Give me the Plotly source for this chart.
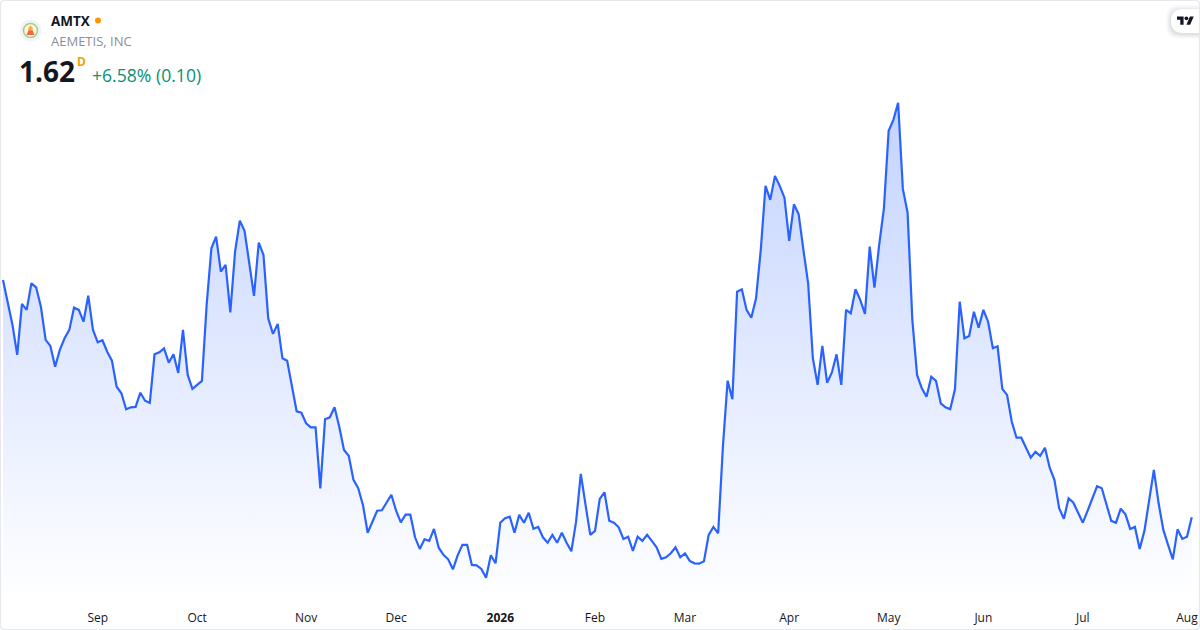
import plotly.graph_objects as go

W, H = 1200, 630
PLOT_H = 606

close = [
2.807,2.698,2.582,2.432,2.687,2.657,2.790,2.770,2.673,2.507,2.477,2.373,2.457,2.515,2.557,2.668,2.657,2.598,2.728,2.557,
2.495,2.505,2.448,2.403,2.273,2.240,2.160,2.170,2.172,2.243,2.203,2.192,2.435,2.445,2.465,2.393,2.435,2.342,2.557,2.332,
2.262,2.282,2.302,2.682,2.965,3.023,2.848,2.882,2.645,2.948,3.103,3.053,2.898,2.727,2.993,2.932,2.615,2.537,2.587,2.415,
2.403,2.282,2.150,2.143,2.090,2.070,2.070,1.765,2.110,2.120,2.170,2.073,1.957,1.928,1.807,1.765,1.682,1.543,1.603,1.653,
1.655,1.695,1.733,1.653,1.595,1.633,1.633,1.520,1.462,1.510,1.502,1.562,1.468,1.432,1.410,1.360,1.430,1.482,1.482,1.382,
1.380,1.362,1.318,1.430,1.390,1.593,1.615,1.623,1.543,1.632,1.593,1.643,1.563,1.572,1.520,1.493,1.532,1.493,1.543,1.493,
1.450,1.598,1.837,1.682,1.532,1.552,1.712,1.745,1.603,1.593,1.570,1.512,1.523,1.452,1.523,1.502,1.532,1.502,1.470,1.412,
1.420,1.440,1.470,1.420,1.440,1.402,1.390,1.388,1.400,1.532,1.572,1.540,1.973,2.303,2.210,2.748,2.760,2.657,2.618,2.715,
2.957,3.277,3.207,3.327,3.277,3.218,3.002,3.185,3.135,2.957,2.790,2.415,2.282,2.477,2.293,2.343,2.435,2.282,2.657,2.640,
2.760,2.707,2.637,2.973,2.768,2.982,3.165,3.553,3.607,3.693,3.262,3.143,2.607,2.332,2.265,2.223,2.323,2.302,2.190,2.170,
2.160,2.260,2.698,2.515,2.527,2.648,2.568,2.657,2.598,2.465,2.475,2.262,2.232,2.098,2.018,2.018,1.968,1.918,1.947,1.927,
1.968,1.868,1.807,1.665,1.613,1.715,1.693,1.643,1.593,1.652,1.710,1.775,1.765,1.682,1.602,1.593,1.663,1.635,1.562,1.572,
1.462,1.552,1.707,1.857,1.690,1.557,1.482,1.410,1.560,1.512,1.523,1.620,
]
sessions = list(range(len(close)))
tick_sessions = [20, 41, 64, 83, 105, 125, 144, 166, 187, 207, 228, 250]
tick_labels = ["Sep", "Oct", "Nov", "Dec", "<b>2026</b>", "Feb", "Mar", "Apr", "May", "Jun", "Jul", "Aug"]

FONT = "Open Sans"
LINE = "#2962FF"
px = lambda x: x / W
py = lambda y: (PLOT_H - y) / PLOT_H


def path(points):
    return "M" + " L".join(f"{px(x):.5f},{py(y):.5f}" for x, y in points) + " Z"


def circle(cx, cy, r, **kw):
    return dict(type="circle", xref="paper", yref="paper", x0=px(cx - r), x1=px(cx + r),
                y0=py(cy + r), y1=py(cy - r), **kw)


def tab(x0, y0, y1, r):
    xr, xc, ym0, ym1 = px(x0 + r), px(x0), py(y0), py(y1)
    return (f"M{px(W)},{ym0} L{xr},{ym0} Q{xc},{ym0} {xc},{py(y0 + r)} "
            f"L{xc},{py(y1 - r)} Q{xc},{ym1} {xr},{ym1} L{px(W)},{ym1} Z")


shapes = []
# Symbol badge
shapes.append(circle(30.5, 30.5, 11, fillcolor="#f0f3fa", line_width=0))
shapes.append(circle(30.5, 30.5, 7, fillcolor="#fdf6e3", line=dict(color="#a5cf7c", width=1.5)))
shapes.append(dict(type="path", xref="paper", yref="paper",
                   path=path([(30.5, 25.5), (34.5, 35), (26.5, 35)]),
                   fillcolor="#f0654a", line_width=0))
shapes.append(circle(30.5, 28.5, 2.2, fillcolor="#fbb03b", line_width=0))
shapes.append(circle(98, 20.5, 3, fillcolor="#ff9800", line_width=0))
# Attribution tab with a soft shadow
for grow, alpha in [(5, 0.015), (4, 0.02), (3, 0.025), (2, 0.03), (1, 0.04)]:
    shapes.append(dict(type="path", xref="paper", yref="paper",
                       path=tab(1171 - grow, 9 - grow + 1, 33 + grow + 1, 12),
                       fillcolor=f"rgba(19,23,34,{alpha})", line_width=0))
shapes.append(dict(type="path", xref="paper", yref="paper", path=tab(1171, 9, 33, 12),
                   fillcolor="#ffffff", line_width=0))
s, ox, oy = 0.47, 1177, 14.5
for poly in ([(14, 22), (7, 22), (7, 11), (0, 11), (0, 4), (14, 4)],
             [(28, 22), (20, 22), (27.5, 4), (35.5, 4)]):
    shapes.append(dict(type="path", xref="paper", yref="paper",
                       path=path([(ox + s * a, oy + s * b) for a, b in poly]),
                       fillcolor="#131722", line_width=0))
shapes.append(circle(ox + s * 20, oy + s * 8, s * 4, fillcolor="#131722", line_width=0))
# Card outline
r = 4
shapes.append(dict(type="path", xref="paper", yref="paper", line=dict(color="#e6e8ee", width=1.2),
                   path=(f"M{px(.5 + r)},{py(.5)} L{px(W - .5 - r)},{py(.5)} Q{px(W - .5)},{py(.5)} {px(W - .5)},{py(.5 + r)} "
                         f"L{px(W - .5)},{py(H - .5 - r)} Q{px(W - .5)},{py(H - .5)} {px(W - .5 - r)},{py(H - .5)} "
                         f"L{px(.5 + r)},{py(H - .5)} Q{px(.5)},{py(H - .5)} {px(.5)},{py(H - .5 - r)} "
                         f"L{px(.5)},{py(.5 + r)} Q{px(.5)},{py(.5)} {px(.5 + r)},{py(.5)} Z")))


def label(text, x, y, size, color, weight=None):
    return dict(text=f"<b>{text}</b>" if weight else text, xref="paper", yref="paper", x=px(x), y=py(y),
                xanchor="left", yanchor="middle", showarrow=False,
                font=dict(family=FONT, size=size, color=color), borderpad=0)


annotations = [
    label("AMTX", 50, 21, 13.5, "#131722", True),
    label("AEMETIS, INC", 50, 41, 13, "#8a8e99"),
    label("1.62", 18, 71, 28, "#131722", True),
    label("D", 76, 61, 12, "#f5a000", True),
    label("+6.58% (0.10)", 91, 75, 17.6, "#0a8f72"),
]

fig = go.Figure(go.Scatter(
    x=sessions, y=close, mode="lines", hoverinfo="skip",
    line=dict(color=LINE, width=2.2, shape="linear"),
    fill="tozeroy",
    fillgradient=dict(type="vertical", start=3.7, stop=1.2,
                      colorscale=[[0, "rgba(41,98,255,0.28)"], [1, "rgba(41,98,255,0.0)"]]),
))
fig.update_layout(
    width=W, height=H, autosize=False, showlegend=False,
    margin=dict(l=0, r=0, t=0, b=H - PLOT_H),
    paper_bgcolor="#ffffff", plot_bgcolor="#ffffff",
    shapes=shapes, annotations=annotations,
    font=dict(family=FONT),
    xaxis=dict(range=[-0.633, 252.74], showgrid=False, zeroline=False, showline=False,
               tickmode="array", tickvals=tick_sessions, ticktext=tick_labels, ticks="",
               ticklen=0, ticklabelstandoff=3,
               tickfont=dict(family=FONT, size=12, color="#131722"), fixedrange=True),
    yaxis=dict(range=[1.1765, 4.2065], visible=False, fixedrange=True),
)
fig.write_html("out.html", config=dict(displayModeBar=False),
               post_script="document.body.style.margin='0';document.body.style.overflow='hidden';")
